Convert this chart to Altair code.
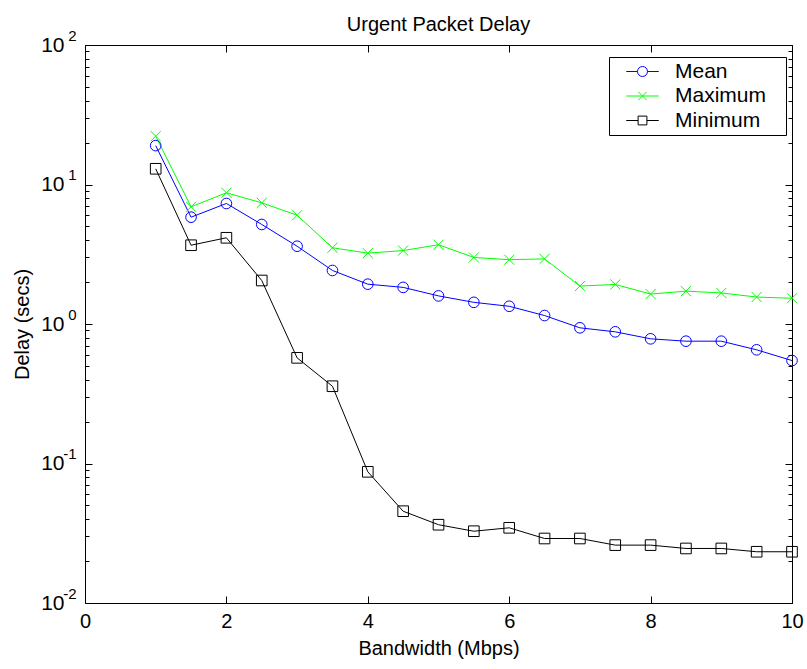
import altair as alt
import pandas as pd

# ---- data ----
bandwidth = [1.0, 1.5, 2.0, 2.5, 3.0, 3.5, 4.0, 4.5, 5.0, 5.5,
             6.0, 6.5, 7.0, 7.5, 8.0, 8.5, 9.0, 9.5, 10.0]
mean_delay = [19.0, 5.83, 7.31, 5.17, 3.61, 2.42, 1.93, 1.83, 1.59, 1.43,
              1.34, 1.15, 0.939, 0.879, 0.783, 0.753, 0.753, 0.653, 0.547]
max_delay = [22.2, 6.92, 8.72, 7.39, 6.02, 3.52, 3.22, 3.36, 3.70, 3.00,
             2.89, 2.93, 1.87, 1.92, 1.64, 1.72, 1.67, 1.56, 1.53]
min_delay = [12.96, 3.67, 4.15, 2.05, 0.572, 0.358, 0.0872, 0.0455, 0.0364, 0.0327,
             0.0346, 0.0290, 0.0290, 0.0260, 0.0260, 0.0246, 0.0246, 0.0233, 0.0233]

series_names = ["Mean", "Maximum", "Minimum"]
series_colors = ["#0000ff", "#00ff00", "#000000"]

x_ticks = [0, 2, 4, 6, 8, 10]
y_major = [0.01, 0.1, 1, 10, 100]
y_minor = [0.02, 0.03, 0.04, 0.05, 0.06, 0.07, 0.08, 0.09,
           0.2, 0.3, 0.4, 0.5, 0.6, 0.7, 0.8, 0.9,
           2, 3, 4, 5, 6, 7, 8, 9,
           20, 30, 40, 50, 60, 70, 80, 90]

rows = []
for name, vals in zip(series_names, [mean_delay, max_delay, min_delay]):
    for b, v in zip(bandwidth, vals):
        rows.append({"bandwidth": b, "delay": v, "series": name})
df = pd.DataFrame(rows)

FONT = "Liberation Sans"

# marker shapes
CROSS = "M-0.95,-0.95L0.95,0.95M-0.95,0.95L0.95,-0.95"
LEG_MEAN = "M-3.25,0L-1,0M1,0L3.25,0M-1,0A1,1 0 1,1 1,0A1,1 0 1,1 -1,0"
LEG_MAX = "M-3.25,0L3.25,0M-0.83,-0.83L0.83,0.83M-0.83,0.83L0.83,-0.83"
LEG_MIN = "M-3.25,0L-0.88,0M0.88,0L3.25,0M-0.88,-0.88L0.88,-0.88L0.88,0.88L-0.88,0.88Z"

xscale = alt.Scale(domain=[0, 10], nice=False, zero=False)
yscale = alt.Scale(type="log", domain=[0.01, 100], nice=False)
cscale = alt.Scale(domain=series_names, range=series_colors)

base = alt.Chart(df)
empty = alt.Chart(df).transform_filter("false")


def X(axis):
    return alt.X("bandwidth:Q", scale=xscale, axis=axis)


def Y(axis):
    return alt.Y("delay:Q", scale=yscale, axis=axis)


common_ax = dict(domain=False, grid=False, tickColor="black", labelColor="black",
                 labelFont=FONT, titleFont=FONT, titleColor="black", titleFontWeight="normal")

# Layer A: lines, bottom x axis and left y axis (with labels/titles)
lines = base.mark_line(strokeWidth=1).encode(
    x=X(alt.Axis(values=x_ticks, format="d", tickSize=7, offset=-7, labelFontSize=20,
                 labelPadding=8, labelFlush=False, title="Bandwidth (Mbps)",
                 titleFontSize=20, titlePadding=7, **common_ax)),
    y=Y(alt.Axis(values=y_major, labelExpr="'10'", tickSize=7, offset=-7, labelFontSize=21,
                 labelPadding=21, title="Delay (secs)", titleFontSize=20, titlePadding=8,
                 **common_ax)),
    color=alt.Color("series:N", scale=cscale, legend=None),
    detail="series:N",
)

# Layer B: markers, top and right major ticks
points = base.mark_point(filled=False, size=113, strokeWidth=1, opacity=1).encode(
    x=X(alt.Axis(orient="top", values=x_ticks, tickSize=7, offset=-7, labels=False,
                 title=None, **common_ax)),
    y=Y(alt.Axis(orient="right", values=y_major, tickSize=7, offset=-7, labels=False,
                 title=None, **common_ax)),
    color=alt.Color("series:N", scale=cscale, legend=None),
    shape=alt.Shape("series:N", scale=alt.Scale(domain=series_names,
                                                range=["circle", CROSS, "square"]),
                    legend=None),
)

# Layer C/D: minor ticks left and right
minor_left = empty.mark_point().encode(
    x=X(None),
    y=Y(alt.Axis(orient="left", values=y_minor, tickSize=4, offset=-4, labels=False,
                 title=None, **common_ax)),
)
minor_right = empty.mark_point().encode(
    x=X(None),
    y=Y(alt.Axis(orient="right", values=y_minor, tickSize=4, offset=-4, labels=False,
                 title=None, **common_ax)),
)

# Layer E: exponent labels + legend
leg = alt.Legend(title=None, orient="none", legendX=524, legendY=12, fillColor="white",
                 strokeColor="black", padding=4, symbolOffset=19, labelOffset=22,
                 labelFontSize=21, labelFont=FONT, labelColor="black", rowPadding=2.5,
                 symbolStrokeWidth=1, labelExpr="datum.label + '\u2800'",
                 cornerRadius=0)
exponent = empty.mark_point(filled=False, size=144, strokeWidth=1, opacity=1).encode(
    x=X(None),
    y=Y(alt.Axis(orient="left", values=y_major, ticks=False, tickSize=0,
                 labelExpr="'' + round(log(datum.value) / LN10)", labelFontSize=15,
                 labelPadding=9, labelOffset=-10, title=None, **common_ax)),
    color=alt.Color("series:N", scale=cscale, legend=leg),
    shape=alt.Shape("series:N", scale=alt.Scale(domain=series_names,
                                                range=[LEG_MEAN, LEG_MAX, LEG_MIN]),
                    legend=leg),
)

chart = alt.layer(lines, points, minor_left, minor_right, exponent).resolve_axis(
    x="independent", y="independent"
).resolve_scale(
    color="independent", shape="independent"
).properties(
    width=707,
    height=558,
    title=alt.Title("Urgent Packet Delay", fontSize=20, fontWeight="normal", font=FONT,
                    color="black", offset=-7),
    autosize=alt.AutoSizeParams(type="none"),
    padding={"left": 85, "top": 45, "right": 15, "bottom": 66},
    background="white",
).configure_view(stroke="black", strokeWidth=1)

chart.save("out.html", embed_options={"renderer": "svg", "actions": False})
